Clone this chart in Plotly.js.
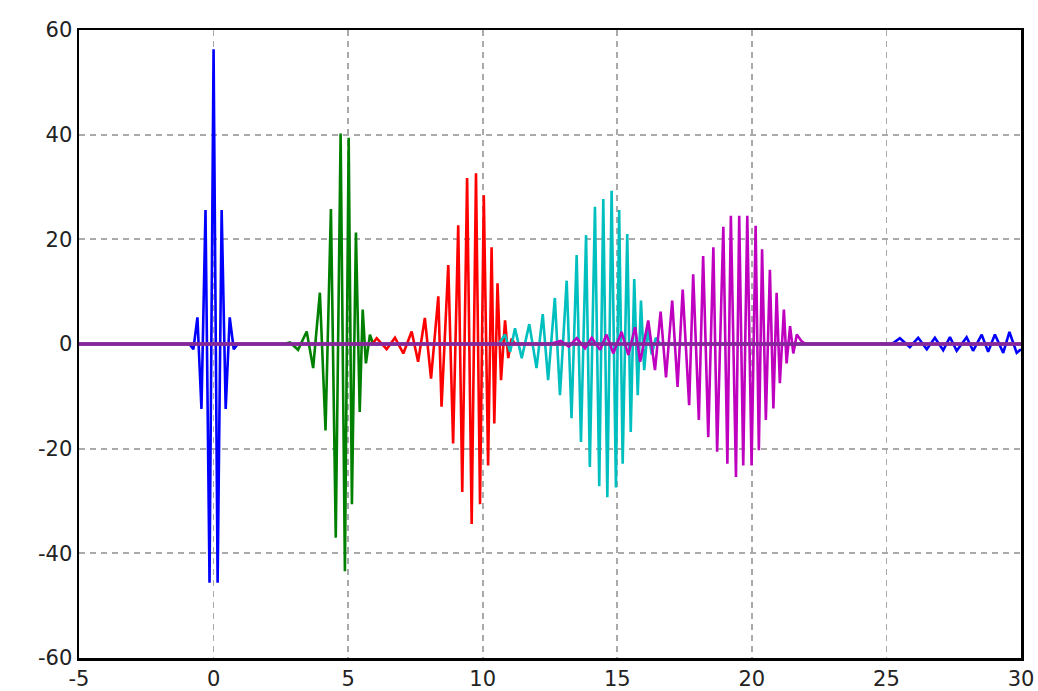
<!DOCTYPE html>
<html>
<head>
<meta charset="utf-8">
<script src="https://cdn.plot.ly/plotly-3.0.1.min.js"></script>
<style>html,body{margin:0;padding:0;background:#fff;}#chart{width:1038px;height:691px;}</style>
</head>
<body>
<div id="chart"></div>
<script>
// Wave packets (x, y peaks)
var blueX = [-5, -0.9, -0.75, -0.6, -0.45, -0.3, -0.15, 0, 0.15, 0.3, 0.45, 0.6, 0.75, 0.9, 25.2, 25.5, 25.87, 26.18, 26.5, 26.8, 27.11, 27.36, 27.61, 27.98, 28.22, 28.54, 28.78, 29.03, 29.34, 29.57, 29.84, 30];
var blueY = [0, 0, -1, 5.1, -12.4, 25.6, -45.6, 56.3, -45.6, 25.6, -12.4, 5.1, -1, 0, 0, 1.1, -0.6, 1.2, -1.0, 1.2, -1.2, 1.3, -1.3, 1.3, -1.3, 1.8, -1.5, 1.8, -1.7, 2.3, -1.7, -1.0];

var greenX = [-5, 2.6, 2.84, 3.14, 3.46, 3.70, 3.95, 4.16, 4.36, 4.54, 4.72, 4.88, 5.02, 5.14, 5.29, 5.43, 5.54, 5.66, 5.81, 5.93, 30];
var greenY = [0, 0, 0.3, -1.1, 2.4, -4.6, 9.8, -16.5, 25.8, -37, 40.2, -43.4, 39.4, -30.6, 21.3, -13, 6.6, -3.7, 1.8, 0, 0];

var redX = [-5, 5.9, 6.06, 6.43, 6.74, 7.05, 7.36, 7.60, 7.85, 8.08, 8.35, 8.47, 8.72, 8.90, 9.09, 9.24, 9.42, 9.59, 9.75, 9.90, 10.04, 10.20, 10.33, 10.43, 10.55, 10.68, 10.83, 10.95, 11.07, 11.2, 30];
var redY = [0, 0, 1.1, -1, 1.2, -1.8, 2.4, -3.4, 5.0, -6.6, 9.1, -12.0, 15.1, -19.0, 22.7, -28.3, 31.7, -34.4, 32.6, -30.6, 28.4, -23.2, 18.5, -15.2, 11.6, -6.9, 4.5, -2.7, 1, 0, 0];

var cyanX = [-5, 10.6, 10.83, 11.02, 11.20, 11.45, 11.73, 12.00, 12.23, 12.43, 12.68, 12.87, 13.12, 13.30, 13.49, 13.65, 13.84, 13.98, 14.17, 14.33, 14.48, 14.63, 14.79, 14.95, 15.07, 15.20, 15.37, 15.50, 15.63, 15.76, 15.88, 16.00, 16.13, 16.28, 16.43, 16.6, 30];
var cyanY = [0, 0, 1.8, -1.5, 3.0, -2.7, 3.8, -4.6, 5.7, -6.9, 8.8, -9.8, 12.1, -14.2, 17.0, -18.7, 20.8, -23.5, 26.2, -27.2, 27.7, -29.3, 29.3, -27.4, 25.6, -22.9, 21.0, -16.8, 12.4, -9.8, 8.3, -5.0, 3.0, -2.0, 1.2, 0, 0];

var magentaX = [-5, 12.5, 12.9, 13.2, 13.49, 13.80, 14.05, 14.36, 14.60, 14.85, 15.16, 15.41, 15.66, 15.85, 16.15, 16.40, 16.61, 16.81, 17.04, 17.24, 17.43, 17.67, 17.82, 18.03, 18.19, 18.38, 18.57, 18.71, 18.94, 19.09, 19.22, 19.41, 19.53, 19.68, 19.83, 19.99, 20.14, 20.26, 20.38, 20.52, 20.67, 20.80, 20.92, 21.04, 21.19, 21.29, 21.42, 21.54, 21.67, 21.85, 22.0, 30];
var magentaY = [0, 0, 0.6, -0.5, 1.1, -0.8, 1.2, -1.1, 1.8, -1.8, 2.3, -2.1, 3.2, -3.4, 4.5, -5.0, 6.2, -6.4, 8.3, -8.2, 10.4, -11.7, 13.3, -14.5, 16.8, -17.8, 18.5, -20.6, 22.4, -22.9, 24.5, -25.4, 24.5, -23.2, 24.5, -23.2, 22.6, -20.3, 18.1, -14.5, 14.2, -12.3, 9.8, -7.5, 6.6, -3.7, 3.4, -1.8, 1.8, 0.5, 0, 0];

// overlapping near-zero tails of all packets (drawn as one level line)
var baseX = [-5, 30];
var baseY = [0, 0];

var xTicks = [-5, 0, 5, 10, 15, 20, 25, 30];
var xTickText = ['-5', '0', '5', '10', '15', '20', '25', '30'];
var yTicks = [-60, -40, -20, 0, 20, 40, 60];
var yTickText = ['-60', '-40', '-20', '0', '20', '40', '60'];

function tr(x, y, c) {
  return {x: x, y: y, type: 'scatter', mode: 'lines', line: {color: c, width: 2.6}, hoverinfo: 'skip', showlegend: false};
}
var data = [
  tr(blueX, blueY, '#0000ff'),
  tr(greenX, greenY, '#008000'),
  tr(redX, redY, '#ff0000'),
  tr(cyanX, cyanY, '#00bfbf'),
  tr(magentaX, magentaY, '#bf00bf'),
  {x: baseX, y: baseY, type: 'scatter', mode: 'lines', line: {color: '#86259c', width: 3.5}, hoverinfo: 'skip', showlegend: false}
];

var axisCommon = {
  showgrid: true, gridcolor: '#aaaaaa', gridwidth: 1.8, griddash: '6px,5px',
  zeroline: false, showline: true, mirror: true, linecolor: '#000', linewidth: 2.5,
  ticks: '', tickfont: {family: 'DejaVu Sans', size: 21, color: '#222'},
  tickmode: 'array'
};
var layout = {
  width: 1038, height: 691,
  margin: {l: 79, r: 17, t: 30, b: 33},
  paper_bgcolor: '#fff', plot_bgcolor: '#fff',
  xaxis: Object.assign({}, axisCommon, {range: [-5, 30], tickvals: xTicks, ticktext: xTickText}),
  yaxis: Object.assign({}, axisCommon, {range: [-60, 60], tickvals: yTicks, ticktext: yTickText}),
  showlegend: false
};
Plotly.newPlot('chart', data, layout, {displayModeBar: false, staticPlot: true});
</script>
</body>
</html>
